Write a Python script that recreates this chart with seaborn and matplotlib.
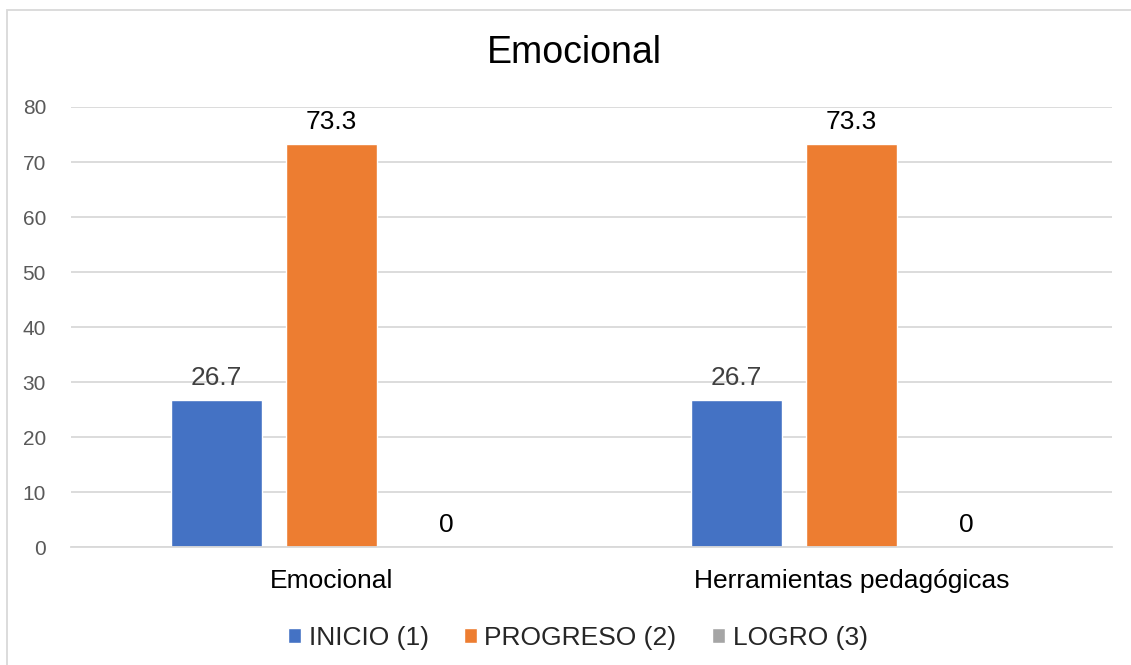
import matplotlib
matplotlib.use("Agg")
import matplotlib.pyplot as plt
import seaborn as sns
import pandas as pd
from matplotlib.patches import Rectangle

categories = ["Emocional", "Herramientas pedagógicas"]
series_names = ["INICIO (1)", "PROGRESO (2)", "LOGRO (3)"]
inicio = [26.7, 26.7]
progreso = [73.3, 73.3]
logro = [0, 0]
colors = ["#4472C4", "#ED7D31", "#A5A5A5"]
label_colors = ["#404040", "#000000", "#000000"]

rows = []
for name, vals in zip(series_names, [inicio, progreso, logro]):
    for cat, v in zip(categories, vals):
        rows.append({"categoria": cat, "nivel": name, "valor": v})
df = pd.DataFrame(rows)

sns.set_theme(style="white")
plt.rcParams["font.family"] = ["Liberation Sans", "DejaVu Sans"]

fig = plt.figure(figsize=(11.31, 6.65), dpi=100)
ax = fig.add_axes([0.0628, 0.1774, 0.9202, 0.6617])

sns.barplot(data=df, x="categoria", y="valor", hue="nivel", order=categories,
            hue_order=series_names, palette=colors, width=0.663, gap=0.21,
            saturation=1, ax=ax, legend=True)

ax.set_xlim(-0.5, 1.5)
ax.set_ylim(0, 80)
ax.set_yticks(range(0, 81, 10))
ax.yaxis.grid(True, color="#D9D9D9", linewidth=1.3)
ax.set_axisbelow(True)
for s in ["top", "right", "left"]:
    ax.spines[s].set_visible(False)
ax.spines["bottom"].set_color("#D9D9D9")
ax.spines["bottom"].set_linewidth(1.3)
ax.tick_params(axis="y", length=0, labelsize=15, labelcolor="#595959", pad=18)
ax.tick_params(axis="x", length=0, labelsize=19, labelcolor="#000000", pad=16)
ax.set_xlabel("")
ax.set_ylabel("")

for cont, lc in zip(ax.containers, label_colors):
    ax.bar_label(cont, labels=[f"{v:g}" for v in cont.datavalues],
                 padding=7, fontsize=19, color=lc)

fig.text(574 / 1131, 1 - 53 / 665, "Emocional", fontsize=27, color="#000000",
         ha="center", va="center")

handles, labels = ax.get_legend_handles_labels()
ax.legend(handles, labels, loc="upper center", bbox_to_anchor=(0.487, -0.125),
          ncol=3, frameon=False, fontsize=19, handlelength=0.5,
          handleheight=0.5, handletextpad=0.27, columnspacing=1.35)

fig.patches.append(Rectangle((7 / 1131, -0.01), 1.05, 1 - 10 / 665 + 0.01,
                             transform=fig.transFigure, fill=False,
                             edgecolor="#D9D9D9", linewidth=1.3, zorder=-1))

fig.savefig("out.png", dpi=100)
